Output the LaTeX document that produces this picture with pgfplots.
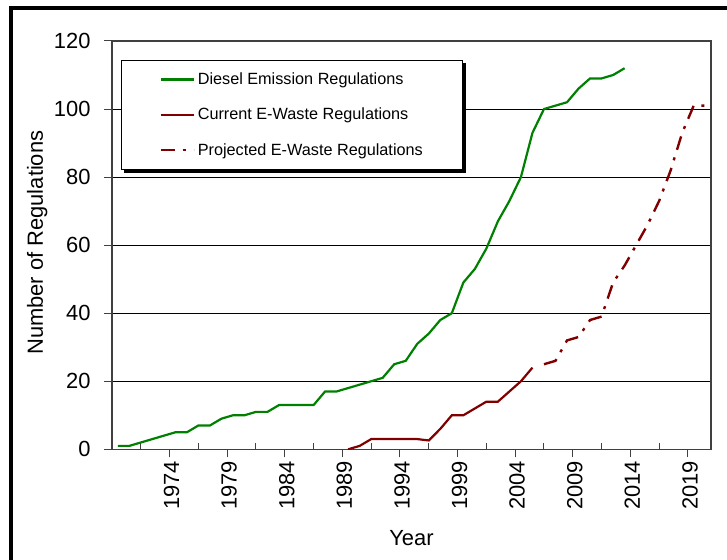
\documentclass[border=0pt]{standalone}
\usepackage{pgfplots}
\pgfplotsset{compat=1.18}
\usepackage{fontspec}
\setmainfont{Liberation Sans}
\definecolor{dgreen}{RGB}{0,128,0}
\definecolor{dred}{RGB}{128,0,0}
\begin{document}
\begin{tikzpicture}
\path[use as bounding box] (0bp,0bp) rectangle (727bp,560bp);
\fill[white] (0bp,0bp) rectangle (727bp,560bp);
\draw[line width=4bp, line join=miter] (11.3bp,-5bp) -- (11.3bp,552.3bp) -- (735bp,552.3bp);
\begin{axis}[
  at={(112bp,110.7bp)}, anchor=south west,
  scale only axis, width=599bp, height=408.3bp,
  xmin=1968.5, xmax=2020.5, ymin=0, ymax=120,
  axis line style={black!75, line width=1.1bp},
  ytick={0,20,...,120},
  ymajorgrids, major grid style={black, line width=0.8bp},
  xtick={1973.5,1978.5,1983.5,1988.5,1993.5,1998.5,2003.5,2008.5,2013.5,2018.5},
  xticklabels={1974,1979,1984,1989,1994,1999,2004,2009,2014,2019},
  minor xtick={1971,1976,1981,1986,1991,1996,2001,2006,2011,2016},
  xtick pos=bottom, ytick pos=left,
  tick align=outside,
  major tick length=8bp, minor tick length=6bp,
  tick style={black!75, line width=1bp},
  minor x tick style={yshift=6bp},
  /pgf/number format/assume math mode=true,
  tick label style={font=\fontsize{22}{24}\selectfont},
  xticklabel style={rotate=90, anchor=east, yshift=-2bp},
  yticklabel style={anchor=east, xshift=-10bp},
  xlabel={Year}, ylabel={Number of Regulations},
  label style={font=\fontsize{22}{24}\selectfont},
  xlabel style={at={(axis description cs:0.5,-0.2172)}, anchor=center},
  ylabel style={at={(axis description cs:-0.125,0.506)}, anchor=center},
  legend style={name=leg, at={(axis description cs:0.015,0.9535)}, anchor=north west,
    draw=black, line width=0.8bp, fill=white,
    font=\fontsize{16.3}{19}\selectfont,
    inner xsep=38bp, inner ysep=10.5bp, row sep=18bp,
    /tikz/every odd column/.append style={column sep=1bp}},
  legend cell align=left,
  legend image code/.code={\draw[#1] (0bp,0bp) -- (33bp,0bp);},
]
\addplot[dgreen, line width=2.2bp] coordinates {
(1969,1) (1970,1) (1971,2) (1972,3) (1973,4) (1974,5) (1975,5) (1976,7) (1977,7)
(1978,9) (1979,10) (1980,10) (1981,11) (1982,11) (1983,13) (1984,13) (1985,13)
(1986,13) (1987,17) (1988,17) (1989,18) (1990,19) (1991,20) (1992,21) (1993,25)
(1994,26) (1995,31) (1996,34) (1997,38) (1998,40) (1999,49) (2000,53) (2001,59)
(2002,67) (2003,73) (2004,80) (2005,93) (2006,100) (2007,101) (2008,102)
(2009,106) (2010,109) (2011,109) (2012,110) (2013,112)
};
\addlegendentry{Diesel Emission Regulations}
\addplot[dred, line width=2.2bp] coordinates {
(1989,0) (1990,1) (1991,3) (1992,3) (1993,3) (1994,3) (1995,3) (1996,2.6)
(1997,6) (1998,10) (1999,10) (2000,12) (2001,14) (2002,14) (2003,17) (2004,20) (2005,24)
};
\addlegendentry{Current E-Waste Regulations}
\addplot[dred, line width=2.4bp, dash pattern=on 14bp off 8bp on 3bp off 8bp] coordinates {
(2006,25) (2007,26) (2008,32) (2009,33) (2010,38) (2011,39) (2012,49) (2013,54)
(2014,60) (2015,66) (2016,73) (2017,82) (2018,93) (2019,101) (2020,101)
};
\addlegendentry{Projected E-Waste Regulations}
\end{axis}
\draw[line width=3bp, line join=miter] ([xshift=1.5bp,yshift=-3bp]leg.north east) -- ([xshift=1.5bp,yshift=-1.5bp]leg.south east) -- ([xshift=3bp,yshift=-1.5bp]leg.south west);
\end{tikzpicture}
\end{document}
